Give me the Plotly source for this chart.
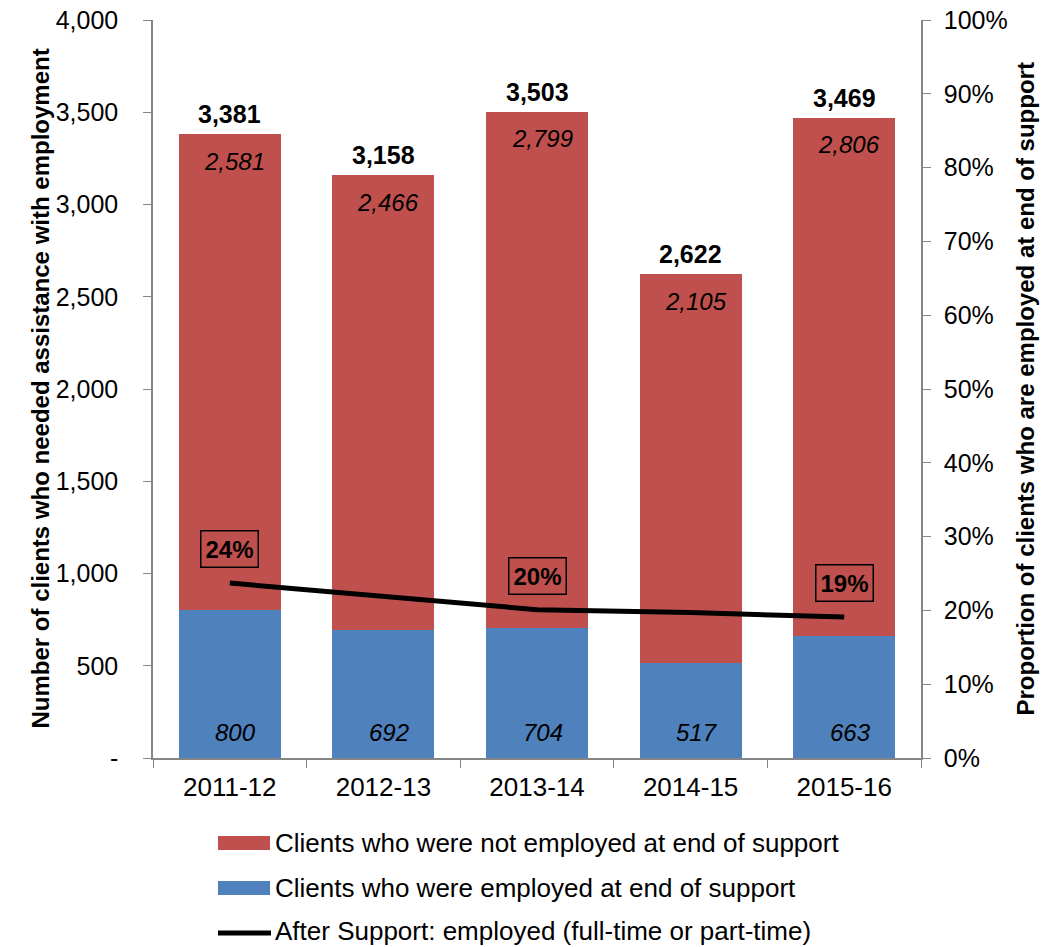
import plotly.graph_objects as go

years = ["2011-12", "2012-13", "2013-14", "2014-15", "2015-16"]
employed = [800, 692, 704, 517, 663]
not_employed = [2581, 2466, 2799, 2105, 2806]
totals = [3381, 3158, 3503, 2622, 3469]
pct_employed = [0.237, 0.219, 0.201, 0.197, 0.191]
pct_labels = ["24%", None, "20%", None, "19%"]

left_ticks = [0, 500, 1000, 1500, 2000, 2500, 3000, 3500, 4000]
left_ticktext = ["-", "500", "1,000", "1,500", "2,000", "2,500", "3,000", "3,500", "4,000"]

RED = "#C0504D"
BLUE = "#4F81BD"
AXIS = "#868686"
FONT = "Liberation Sans, Arial, sans-serif"

W, H = 1055, 947
ML, MR, MT, MB = 153, 134, 20, 189
PW, PH = W - ML - MR, H - MT - MB


def px_x(px):
    return (px - ML) / PW


def px_y(py):
    return (H - MB - py) / PH


fig = go.Figure()
fig.add_trace(go.Bar(x=years, y=employed, marker_color=BLUE, marker_line_width=0,
                     name="Clients who were employed at end of support"))
fig.add_trace(go.Bar(x=years, y=not_employed, marker_color=RED, marker_line_width=0,
                     name="Clients who were not employed at end of support"))
fig.add_trace(go.Scatter(x=years, y=pct_employed, yaxis="y2", mode="lines",
                         line=dict(color="black", width=5),
                         name="After Support: employed (full-time or part-time)"))

annotations = []
for yr, tot, ne, emp in zip(years, totals, not_employed, employed):
    annotations.append(dict(x=yr, y=tot, xref="x", yref="y", text=f"<b>{tot:,}</b>",
                            showarrow=False, yshift=20, font=dict(size=25, color="black")))
    annotations.append(dict(x=yr, y=tot, xref="x", yref="y", text=f"<i>{ne:,}</i>",
                            showarrow=False, yshift=-27, xshift=5, font=dict(size=24, color="black")))
    annotations.append(dict(x=yr, y=0, xref="x", yref="y", text=f"<i>{emp:,}</i>",
                            showarrow=False, yshift=26, xshift=6, font=dict(size=24, color="black")))

for yr, p, lab in zip(years, pct_employed, pct_labels):
    if lab:
        annotations.append(dict(x=yr, y=p, xref="x", yref="y2", text=f"<b>{lab}</b>",
                                showarrow=False, yshift=34, bordercolor="black", borderwidth=1.5,
                                borderpad=4, bgcolor="rgba(0,0,0,0)",
                                font=dict(size=24, color="black")))

# axis titles
annotations.append(dict(x=px_x(24), y=0.5, xref="paper", yref="paper", textangle=-90,
                        text="<b>Number of clients who needed assistance with employment</b>",
                        showarrow=False, font=dict(size=24, color="black")))
annotations.append(dict(x=px_x(1040), y=0.5, xref="paper", yref="paper", textangle=-90,
                        text="<b>Proportion of clients who are employed at end of support</b>",
                        showarrow=False, font=dict(size=24, color="black")))

# legend drawn below the chart
shapes = []
legend_items = [
    ("rect", RED, "Clients who were not employed at end of support", 843),
    ("rect", BLUE, "Clients who were employed at end of support", 888),
    ("line", "black", "After Support: employed (full-time or part-time)", 931),
]
for kind, col, label, cy in legend_items:
    if kind == "rect":
        shapes.append(dict(type="rect", xref="paper", yref="paper",
                           x0=px_x(218), x1=px_x(270), y0=px_y(cy + 7), y1=px_y(cy - 7),
                           fillcolor=col, line=dict(width=0)))
    else:
        shapes.append(dict(type="line", xref="paper", yref="paper",
                           x0=px_x(218), x1=px_x(271), y0=px_y(cy + 2), y1=px_y(cy + 2),
                           line=dict(color=col, width=5)))
    annotations.append(dict(x=px_x(273), y=px_y(cy), xref="paper", yref="paper",
                            xanchor="left", yanchor="middle", text=label, showarrow=False,
                            font=dict(size=26, color="black")))

fig.update_layout(
    width=W, height=H,
    margin=dict(l=ML, r=MR, t=MT, b=MB, autoexpand=False),
    barmode="stack", bargap=0.336,
    showlegend=False,
    plot_bgcolor="white", paper_bgcolor="white",
    font=dict(family=FONT, size=24, color="black"),
    xaxis=dict(type="category", tickson="boundaries", ticks="outside", ticklen=8,
               tickcolor=AXIS, showline=True, linecolor=AXIS, linewidth=1.5,
               showgrid=False, tickfont=dict(size=26), ticklabelstandoff=5,
               automargin=False),
    yaxis=dict(range=[0, 4000], tickvals=left_ticks, ticktext=left_ticktext,
               ticks="outside", ticklen=8, tickcolor=AXIS, showline=True,
               linecolor=AXIS, linewidth=1.5, showgrid=False, zeroline=False,
               tickfont=dict(size=25), ticklabelstandoff=20, automargin=False),
    yaxis2=dict(range=[0, 1], dtick=0.1, tickformat=".0%", overlaying="y", side="right",
                ticks="outside", ticklen=8, tickcolor=AXIS, showline=True,
                linecolor=AXIS, linewidth=1.5, showgrid=False, zeroline=False,
                tickfont=dict(size=25), ticklabelstandoff=8, automargin=False),
    annotations=annotations,
    shapes=shapes,
)

fig.write_html("out.html")
